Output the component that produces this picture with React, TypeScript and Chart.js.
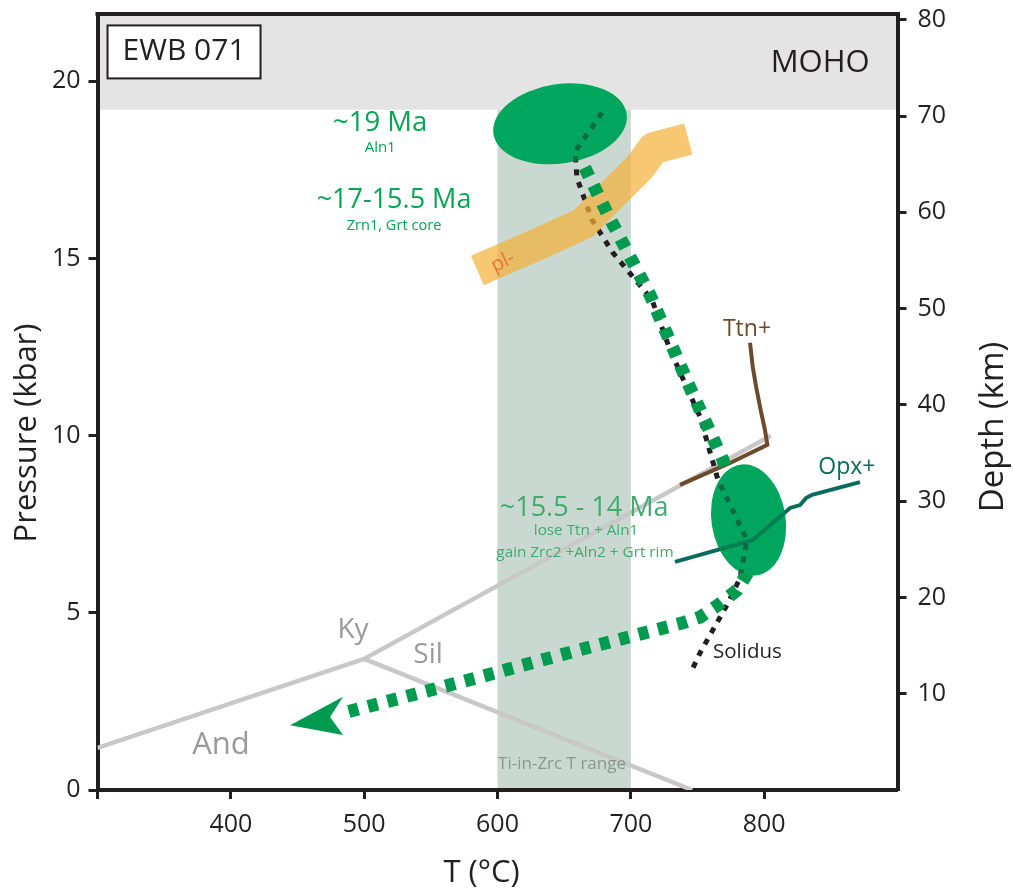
import { useEffect, useRef } from "react";
import { Chart, registerables } from "chart.js";

Chart.register(...registerables);

// ---------- axes ----------
const T_MIN = 300;
const T_MAX = 900;
const P_MIN = 0;
const P_MAX = 21.9;
const DEPTH_MIN = 0;
const DEPTH_MAX = 80.6;
const T_TICKS = [300, 400, 500, 600, 700, 800];
const P_TICKS = [0, 5, 10, 15, 20];
const DEPTH_TICKS = [10, 20, 30, 40, 50, 60, 70, 80];

// ---------- fields ----------
const MOHO_P = 19.2;
const TI_ZRC_T = [600, 700];

// ---------- Al2SiO5 reactions ----------
const KY_AND_T = [300, 500];
const KY_AND_P = [1.19, 3.7];
const KY_SIL_T = [500, 805];
const KY_SIL_P = [3.7, 10.0];
const SIL_AND_T = [500, 746];
const SIL_AND_P = [3.7, 0];

// ---------- plagioclase-out band ----------
const PL_OUT_T = [584.9, 631.9, 664.4, 686.9, 706.9, 716.9, 743.1];
const PL_OUT_P = [14.66, 15.43, 15.99, 16.84, 17.59, 18.11, 18.37];

// ---------- solidus ----------
const SOLIDUS_T = [678.4, 658.1, 659.6, 670.9, 686.6, 715.9, 729.4, 751.9, 765.4, 787.1, 781.9, 772.1, 761.6, 751.9, 745.9];
const SOLIDUS_P = [19.11, 18.01, 17.27, 16.09, 15.16, 13.83, 12.42, 10.53, 8.75, 7.06, 5.98, 5.22, 4.52, 3.87, 3.39];

// ---------- titanite-in ----------
const TTN_T = [789.4, 791.4, 793.9, 797.4, 800.6, 802.4, 774.4, 736.9];
const TTN_P = [12.62, 11.95, 11.39, 10.72, 10.16, 9.74, 9.23, 8.61];

// ---------- orthopyroxene-in ----------
const OPX_T = [733.1, 791.6, 811.9, 819.4, 826.9, 831.4, 835.9, 871.9];
const OPX_P = [6.44, 7.06, 7.71, 7.96, 8.04, 8.24, 8.33, 8.69];

// ---------- P-T path ----------
const PATH_T = [658.1, 662.6, 682.1, 714.4, 744.4, 769.1, 785.6, 787.9, 779.6, 765.4, 751.9, 738.4, 661.9, 586.9, 536.6, 487.1];
const PATH_P = [18.06, 17.78, 16.29, 13.97, 11.35, 9.31, 7.34, 6.15, 5.64, 5.22, 4.88, 4.71, 3.96, 3.19, 2.69, 2.20];
const ARROW_T = [444.4, 484.2, 474.4, 484.2];
const ARROW_P = [1.83, 2.63, 2.06, 1.55];

// ---------- age fields (ellipses) ----------
const ELLIPSE_T = [646.9, 788.3];
const ELLIPSE_P = [18.8, 7.62];
const ELLIPSE_DT = [50.5, 27.8];
const ELLIPSE_DP = [1.12, 1.58];

// ---------- styles ----------
const FONT = "'Open Sans', 'DejaVu Sans', sans-serif";
const INK = "#231f20";
const PATH_GREEN = "#009b4e";
const ELLIPSE_GREEN = "#00a65d";
const LABEL_GREEN = "#00a651";
const LABEL_GREEN2 = "#3fac6e";
const AL_GREY = "#c8c8c8";
const ELLIPSE_ROT = [-0.15, -0.15];

type Lbl = { text: string; t: number; p: number; size: number; color: string; align?: CanvasTextAlign; rot?: number };
const LABELS: Lbl[] = [
  { text: "MOHO", t: 842, p: 20.52, size: 31, color: INK },
  { text: "~19 Ma", t: 512, p: 18.83, size: 27.5, color: LABEL_GREEN },
  { text: "Aln1", t: 512, p: 18.12, size: 15, color: LABEL_GREEN },
  { text: "~17-15.5 Ma", t: 522.4, p: 16.63, size: 27, color: LABEL_GREEN },
  { text: "Zrn1, Grt core", t: 522.4, p: 15.92, size: 14.6, color: LABEL_GREEN },
  { text: "~15.5 - 14 Ma", t: 665, p: 7.96, size: 27, color: LABEL_GREEN2 },
  { text: "lose Ttn + Aln1", t: 666.4, p: 7.31, size: 15.3, color: LABEL_GREEN2 },
  { text: "gain Zrc2 +Aln2 + Grt rim", t: 665.6, p: 6.69, size: 15.3, color: LABEL_GREEN2 },
  { text: "pl-", t: 604, p: 14.9, size: 20, color: "#e8743b", rot: -0.45 },
  { text: "Ttn+", t: 787.1, p: 13.01, size: 23, color: "#6e4a2c" },
  { text: "Opx+", t: 862, p: 9.09, size: 23, color: "#0b6b5c" },
  { text: "Solidus", t: 761.6, p: 3.9, size: 20.5, color: INK, align: "left" },
  { text: "Ti-in-Zrc T range", t: 648.4, p: 0.73, size: 17, color: "#8a9690" },
  { text: "Ky", t: 491.6, p: 4.52, size: 28, color: "#9a9a9a" },
  { text: "Sil", t: 547.9, p: 3.81, size: 28, color: "#9a9a9a" },
  { text: "And", t: 392.6, p: 1.27, size: 31, color: "#9a9a9a" },
];
const SAMPLE = { text: "EWB 071", t: 364.9, p: 20.83, size: 30 };

const pts = (ts: number[], ps: number[]) => ts.map((t, i) => ({ x: t, y: ps[i] }));

function drawText(ctx: CanvasRenderingContext2D, text: string, x: number, y: number, size: number, color: string, align: CanvasTextAlign = "center", rot = 0) {
  ctx.save();
  ctx.translate(x, y);
  ctx.rotate(rot);
  ctx.font = `${size}px ${FONT}`;
  ctx.fillStyle = color;
  ctx.textAlign = align;
  ctx.textBaseline = "middle";
  ctx.fillText(text, 0, 0);
  ctx.restore();
}

function polyline(chart: any, ts: number[], ps: number[]) {
  const ctx = chart.ctx as CanvasRenderingContext2D;
  const sx = chart.scales.x, sy = chart.scales.y;
  ctx.beginPath();
  ts.forEach((t, i) => {
    const X = sx.getPixelForValue(t), Y = sy.getPixelForValue(ps[i]);
    if (i === 0) ctx.moveTo(X, Y); else ctx.lineTo(X, Y);
  });
}

function ellipsePath(chart: any, i: number) {
  const ctx = chart.ctx as CanvasRenderingContext2D;
  const sx = chart.scales.x, sy = chart.scales.y;
  const cx = sx.getPixelForValue(ELLIPSE_T[i]);
  const cy = sy.getPixelForValue(ELLIPSE_P[i]);
  const rx = Math.abs(sx.getPixelForValue(ELLIPSE_T[i] + ELLIPSE_DT[i]) - cx);
  const ry = Math.abs(sy.getPixelForValue(ELLIPSE_P[i] + ELLIPSE_DP[i]) - cy);
  ctx.ellipse(cx, cy, rx, ry, ELLIPSE_ROT[i], 0, Math.PI * 2);
}

const decorPlugin = {
  id: "decor",
  beforeDraw(chart: any) {
    const { ctx, chartArea: a, scales } = chart;
    const yM = scales.y.getPixelForValue(MOHO_P);
    ctx.save();
    ctx.fillStyle = "#e3e4e3";
    ctx.fillRect(a.left, a.top, a.right - a.left, yM - a.top);
    const x1 = scales.x.getPixelForValue(TI_ZRC_T[0]);
    const x2 = scales.x.getPixelForValue(TI_ZRC_T[1]);
    ctx.fillStyle = "#c9d8d1";
    ctx.fillRect(x1, yM, x2 - x1, a.bottom - yM);
    ctx.restore();
  },
  afterDatasetsDraw(chart: any) {
    const { ctx, chartArea: a, scales } = chart;
    const sx = scales.x, sy = scales.y;
    ctx.save();
    ctx.beginPath();
    ctx.rect(a.left, a.top, a.right - a.left, a.bottom - a.top);
    ctx.clip();
    // arrow head
    polyline(chart, ARROW_T, ARROW_P);
    ctx.closePath();
    ctx.fillStyle = PATH_GREEN;
    ctx.fill();
    // ellipses
    for (let i = 0; i < ELLIPSE_T.length; i++) {
      ctx.beginPath();
      ellipsePath(chart, i);
      ctx.fillStyle = ELLIPSE_GREEN;
      ctx.fill();
    }
    // lines seen through the ellipses
    ctx.save();
    ctx.beginPath();
    for (let i = 0; i < ELLIPSE_T.length; i++) {
      ellipsePath(chart, i);
      ctx.closePath();
    }
    ctx.clip();
    ctx.globalAlpha = 0.45;
    ctx.lineCap = "butt";
    polyline(chart, SOLIDUS_T, SOLIDUS_P);
    ctx.setLineDash([6, 7]);
    ctx.strokeStyle = INK;
    ctx.lineWidth = 5;
    ctx.stroke();
    ctx.setLineDash([]);
    polyline(chart, OPX_T, OPX_P);
    ctx.strokeStyle = "#0b4f44";
    ctx.lineWidth = 4;
    ctx.stroke();
    ctx.restore();
    ctx.restore();

    // labels
    LABELS.forEach((l) => {
      drawText(ctx, l.text, sx.getPixelForValue(l.t), sy.getPixelForValue(l.p), l.size, l.color, l.align || "center", l.rot || 0);
    });
    // sample box
    const bx = sx.getPixelForValue(SAMPLE.t), by = sy.getPixelForValue(SAMPLE.p);
    ctx.save();
    ctx.font = `${SAMPLE.size}px ${FONT}`;
    const w = ctx.measureText(SAMPLE.text).width + 30;
    const h = 53;
    ctx.fillStyle = "#ffffff";
    ctx.fillRect(bx - w / 2, by - h / 2, w, h);
    ctx.strokeStyle = INK;
    ctx.lineWidth = 2;
    ctx.strokeRect(bx - w / 2, by - h / 2, w, h);
    ctx.restore();
    drawText(ctx, SAMPLE.text, bx, by, SAMPLE.size, INK);
  },
  afterDraw(chart: any) {
    const { ctx, chartArea: a } = chart;
    ctx.save();
    ctx.strokeStyle = INK;
    ctx.lineWidth = 4;
    ctx.beginPath();
    ctx.moveTo(a.left - 2, a.top);
    ctx.lineTo(a.right + 2, a.top);
    ctx.stroke();
    ctx.restore();
    const midY = (a.top + a.bottom) / 2;
    drawText(ctx, "Pressure (kbar)", a.left - 70, midY + 31, 31, INK, "center", -Math.PI / 2);
    drawText(ctx, "Depth (km)", a.right + 96, midY + 25, 33, INK, "center", -Math.PI / 2);
    drawText(ctx, "T (°C)", (a.left + a.right) / 2 - 16, a.bottom + 83, 31, INK);
  },
};

const tickFont = { family: FONT, size: 25 };
const gridOpts = { display: true, drawOnChartArea: false, drawTicks: true, tickLength: 9, tickWidth: 3, tickColor: INK };
const borderOpts = { display: true, color: INK, width: 4 };

function lineDs(label: string, ts: number[], ps: number[], color: string, width: number, order: number, extra: any = {}) {
  return {
    label,
    data: pts(ts, ps),
    showLine: true,
    borderColor: color,
    backgroundColor: color,
    borderWidth: width,
    pointRadius: 0,
    pointHoverRadius: 0,
    fill: false,
    tension: 0,
    order,
    borderCapStyle: "butt",
    borderJoinStyle: "miter",
    ...extra,
  };
}

const fitVertical = (width: number) => (s: any) => {
  s.width = width;
  s.paddingTop = 0;
  s.paddingBottom = 0;
};

export default function App() {
  const ref = useRef<HTMLCanvasElement>(null);
  useEffect(() => {
    const canvas = ref.current;
    if (!canvas) return;
    const chart = new Chart(canvas, {
      type: "scatter",
      data: {
        datasets: [
          lineDs("P-T path", PATH_T, PATH_P, PATH_GREEN, 13, 1, { borderDash: [10, 10] }),
          lineDs("Ttn+", TTN_T, TTN_P, "#6e4a2c", 4, 2),
          lineDs("Opx+", OPX_T, OPX_P, "#0b6b5c", 4, 3),
          lineDs("pl-", PL_OUT_T, PL_OUT_P, "rgba(244,178,60,0.72)", 32, 4, { borderJoinStyle: "round" }),
          lineDs("Solidus", SOLIDUS_T, SOLIDUS_P, INK, 5, 5, { borderDash: [6, 7] }),
          lineDs("Ky-And", KY_AND_T, KY_AND_P, AL_GREY, 4.5, 6),
          lineDs("Ky-Sil", KY_SIL_T, KY_SIL_P, AL_GREY, 4.5, 7),
          lineDs("Sil-And", SIL_AND_T, SIL_AND_P, AL_GREY, 4.5, 8),
        ] as any,
      },
      options: {
        animation: false,
        responsive: false,
        devicePixelRatio: 1,
        events: [],
        layout: { padding: { top: 14, left: 0, right: 0, bottom: 0 } },
        plugins: { legend: { display: false }, tooltip: { enabled: false }, title: { display: false } },
        scales: {
          x: {
            type: "linear",
            position: "bottom",
            min: T_MIN,
            max: T_MAX,
            z: 1,
            afterBuildTicks: (s: any) => { s.ticks = T_TICKS.map((v) => ({ value: v })); },
            afterFit: (s: any) => { s.height = 100; s.paddingLeft = 0; s.paddingRight = 0; },
            grid: gridOpts,
            border: borderOpts,
            ticks: { color: INK, font: tickFont, padding: 11, maxRotation: 0, autoSkip: false, callback: (v: any) => (v === T_MIN ? "" : String(v)) },
          },
          y: {
            type: "linear",
            position: "left",
            min: P_MIN,
            max: P_MAX,
            z: 1,
            afterBuildTicks: (s: any) => { s.ticks = P_TICKS.map((v) => ({ value: v })); },
            afterFit: fitVertical(97.5),
            grid: gridOpts,
            border: borderOpts,
            ticks: { color: INK, font: tickFont, padding: 8, autoSkip: false, callback: (v: any) => String(v) },
          },
          depth: {
            type: "linear",
            position: "right",
            min: DEPTH_MIN,
            max: DEPTH_MAX,
            z: 1,
            afterBuildTicks: (s: any) => { s.ticks = DEPTH_TICKS.map((v) => ({ value: v })); },
            afterFit: fitVertical(115.5),
            grid: gridOpts,
            border: borderOpts,
            ticks: { color: INK, font: tickFont, padding: 11, autoSkip: false, callback: (v: any) => String(v) },
          },
        },
      } as any,
      plugins: [decorPlugin],
    });
    return () => chart.destroy();
  }, []);
  return (
    <div style={{ position: "absolute", left: 0, top: 0, width: 1013, height: 890, background: "#ffffff" }}>
      <canvas ref={ref} width={1013} height={890} style={{ display: "block", width: 1013, height: 890 }} />
    </div>
  );
}
